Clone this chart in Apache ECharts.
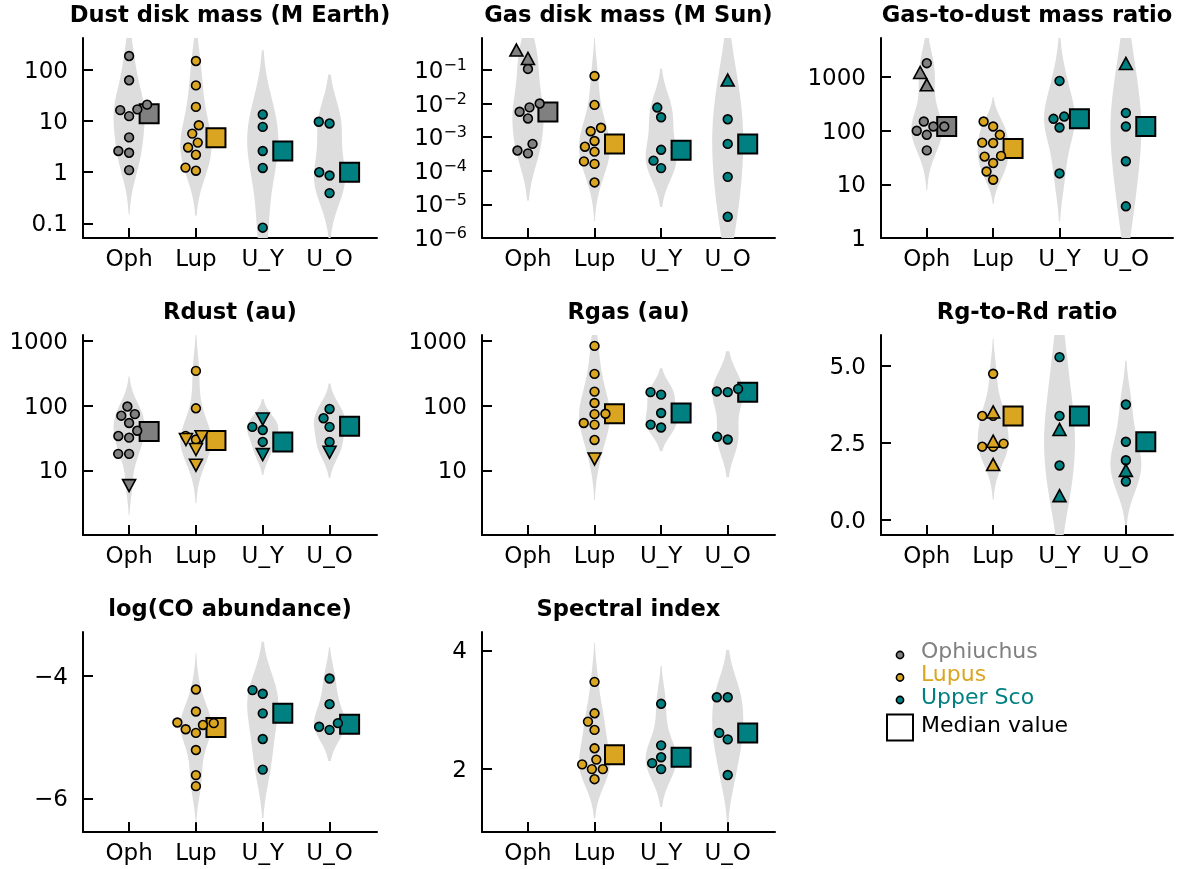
<!DOCTYPE html>
<html>
<head>
<meta charset="utf-8">
<script src="https://cdn.jsdelivr.net/npm/echarts@6/dist/echarts.min.js"></script>
<style>
  html, body { margin: 0; padding: 0; background: #ffffff; }
  #chart { width: 1179px; height: 869px; }
</style>
</head>
<body>
<div id="chart"></div>
<script>
// ---- categories and groups ----
const CATEGORIES = ['Oph', 'Lup', 'U_Y', 'U_O'];
const REGION_NAMES = ['Ophiuchus', 'Lupus', 'Upper Sco'];
const REGION_COLORS = ['#808080', '#daa520', '#008080'];
const CATEGORY_REGION = [0, 1, 2, 2];   // both Upper Sco subsamples share one colour

// ---- Dust disk mass (M Earth) ----
const dustMassDet = [
  [188, 63, 16.4, 12.5, 17, 21, 4.8, 2.6, 2.4, 1.1],
  [150, 50, 19, 8.3, 5.7, 3.8, 3.05, 2.2, 1.23, 1.07],
  [13.5, 7.7, 2.6, 1.21, 0.082],
  [9.7, 9.0, 1.0, 0.86, 0.39]
];
const dustMassLim = [[], [], [], []];
const dustMassMed = [14, 4.7, 2.6, 1.0];
const dustMassTicks = [0.1, 1, 10, 100];

// ---- Gas disk mass (M Sun) ----
const gasMassDet = [
  [0.107, 0.0077, 0.0057, 0.0036, 0.010, 0.00063, 0.0004, 0.00033],
  [0.066, 0.0091, 0.0019, 0.0015, 0.00077, 0.00052, 0.00037, 0.00019, 0.00016, 0.000045],
  [0.0076, 0.0039, 0.00042, 0.0002, 0.00012],
  [0.0034, 0.00063, 0.000066, 0.0000043]
];
const gasMassLim = [[0.39, 0.22], [], [], [0.05]];
const gasMassMed = [0.0056, 0.00063, 0.00041, 0.00063];
const gasMassTicks = [1e-6, 1e-5, 1e-4, 1e-3, 1e-2, 1e-1];

// ---- Gas-to-dust mass ratio ----
const gasDustDet = [
  [1820, 149, 120, 120, 100, 84, 43],
  [149, 120, 84, 60, 59, 34, 33, 25, 17.4, 12.2],
  [850, 184, 167, 115, 16],
  [215, 120, 27, 3.9]
];
const gasDustLim = [[1220, 720], [], [], [1800]];
const gasDustMed = [120, 46.6, 167, 120];
const gasDustTicks = [1, 10, 100, 1000];

// ---- Rdust (au) ----
const rdustDet = [
  [97, 74, 70, 54, 41, 34, 32, 18, 18],
  [345, 91, 34, 30],
  [47, 42, 27.5],
  [89, 64, 47, 27.5]
];
const rdustLim = [[5.8], [33, 30, 21, 12], [62, 17.5], [19]];
const rdustMed = [40, 29, 27.5, 48];
const rdustTicks = [10, 100, 1000];

// ---- Rgas (au) ----
const rgasDet = [
  [],
  [840, 310, 165, 110, 75, 74, 54, 51, 29.5],
  [162, 148, 77, 51, 46],
  [182, 166, 162, 33, 30]
];
const rgasLim = [[], [15], [], []];
const rgasMed = [null, 75, 77, 162];
const rgasTicks = [10, 100, 1000];

// ---- Rg-to-Rd ratio ----
const rRatioDet = [
  [],
  [4.74, 3.37, 3.37, 2.47, 2.37, 2.37],
  [5.28, 3.37, 1.76],
  [3.74, 2.53, 1.93, 1.24]
];
const rRatioLim = [[], [3.5, 2.55, 1.79], [2.93, 0.78], [1.6]];
const rRatioMed = [null, 3.37, 3.37, 2.53];
const rRatioTicks = [0, 2.5, 5];

// ---- log(CO abundance) ----
const coDet = [
  [],
  [-4.22, -4.58, -4.76, -4.77, -4.80, -4.87, -4.93, -5.21, -5.62, -5.80],
  [-4.23, -4.29, -4.61, -5.03, -5.53],
  [-4.04, -4.46, -4.77, -4.83, -4.88]
];
const coLim = [[], [], [], []];
const coMed = [null, -4.84, -4.61, -4.79];
const coTicks = [-6, -4];

// ---- Spectral index ----
const specDet = [
  [],
  [3.47, 2.94, 2.80, 2.66, 2.35, 2.16, 2.08, 2.0, 2.0, 1.83],
  [3.10, 2.40, 2.20, 2.10, 2.0],
  [3.21, 3.21, 2.61, 2.50, 1.90]
];
const specLim = [[], [], [], []];
const specMed = [null, 2.24, 2.20, 2.61];
const specTicks = [2, 4];

// ---- panel setup (axis limits are in plotted units: log10 for log panels) ----
const panels = [
  { title: 'Dust disk mass (M Earth)', det: dustMassDet, lim: dustMassLim, med: dustMassMed, ticks: dustMassTicks, log: true,  yRange: [-1.288, 2.627], limDir: 'up',   fmt: 'plain' },
  { title: 'Gas disk mass (M Sun)',    det: gasMassDet,  lim: gasMassLim,  med: gasMassMed,  ticks: gasMassTicks,  log: true,  yRange: [-6, -0.05],     limDir: 'up',   fmt: 'pow' },
  { title: 'Gas-to-dust mass ratio',   det: gasDustDet,  lim: gasDustLim,  med: gasDustMed,  ticks: gasDustTicks,  log: true,  yRange: [0, 3.73],       limDir: 'up',   fmt: 'plain' },
  { title: 'Rdust (au)',               det: rdustDet,    lim: rdustLim,    med: rdustMed,    ticks: rdustTicks,    log: true,  yRange: [0, 3.093],      limDir: 'down', fmt: 'plain' },
  { title: 'Rgas (au)',                det: rgasDet,     lim: rgasLim,     med: rgasMed,     ticks: rgasTicks,     log: true,  yRange: [0, 3.093],      limDir: 'down', fmt: 'plain' },
  { title: 'Rg-to-Rd ratio',           det: rRatioDet,   lim: rRatioLim,   med: rRatioMed,   ticks: rRatioTicks,   log: false, yRange: [-0.5, 6.0],     limDir: 'up',   fmt: 'fixed1' },
  { title: 'log(CO abundance)',        det: coDet,       lim: coLim,       med: coMed,       ticks: coTicks,       log: false, yRange: [-6.55, -3.28],  limDir: 'up',   fmt: 'plain' },
  { title: 'Spectral index',           det: specDet,     lim: specLim,     med: specMed,     ticks: specTicks,     log: false, yRange: [0.94, 4.31],    limDir: 'up',   fmt: 'plain' }
];

const FONT = 'DejaVu Sans';
const FONT_SIZE = 23;
const layout = { colLeft: [83, 482, 881], colWidth: [294, 293, 292], rowTop: [38, 335, 632], height: 200 };
const X_RANGE = [-0.69, 3.71];
const VIOLIN_HALF = 0.233;       // widest point of each violin, category units
const MEDIAN_SHIFT = 0.3;        // median marker sits to the right of the swarm
const R_CIRCLE = 5.2, R_TRI = 6.9;  // swarm collision radii, px
const VIOLIN_FILL = '#dddddd';

const toPlot = (p, v) => p.log ? Math.round(Math.log10(v) * 1e6) / 1e6 : v;
const minus = s => s.replace('-', '\u2212');

// Gaussian KDE (Scott bandwidth), extended two bandwidths past the data, clipped to the axis
function violinOutline(vals, center, yRange) {
  const n = vals.length;
  const mean = vals.reduce((a, b) => a + b, 0) / n;
  const sd = Math.sqrt(vals.reduce((a, b) => a + (b - mean) * (b - mean), 0) / (n - 1));
  const bw = sd * Math.pow(n, -0.2);
  const lo = Math.min(...vals) - 2 * bw, hi = Math.max(...vals) + 2 * bw;
  const dens = y => vals.reduce((s, v) => s + Math.exp(-0.5 * ((y - v) / bw) ** 2), 0);
  const N = 240;
  let dmax = 0;
  for (let i = 0; i <= N; i++) dmax = Math.max(dmax, dens(lo + (hi - lo) * i / N));
  const a = Math.max(lo, yRange[0]), b = Math.min(hi, yRange[1]);
  const right = [], left = [];
  for (let i = 0; i <= N; i++) {
    const y = a + (b - a) * i / N;
    const w = VIOLIN_HALF * dens(y) / dmax;
    right.push([center + w, y]);
    left.push([center - w, y]);
  }
  return right.concat(left.reverse());
}

// Beeswarm layout: points placed from lowest to highest, nearest free spot to the midline
function beeswarm(ys, r) {
  const order = ys.map((_, i) => i).sort((a, b) => ys[a] - ys[b] || a - b);
  const placed = [];
  const out = new Array(ys.length).fill(0);
  order.forEach(idx => {
    const y = ys[idx];
    const nb = [];
    for (let k = placed.length - 1; k >= 0; k--) {
      if (y - placed[k].y < 2 * r) nb.unshift(placed[k]); else break;
    }
    let x = 0;
    if (nb.length) {
      const cands = [0];
      let leftFirst = true;
      nb.forEach(p => {
        const dy = y - p.y;
        const dx = Math.sqrt(Math.max(4 * r * r - dy * dy, 0)) * 1.05;
        if (leftFirst) cands.push(p.x - dx, p.x + dx); else cands.push(p.x + dx, p.x - dx);
        leftFirst = !leftFirst;
      });
      const sorted = cands.map((c, k) => [c, k]).sort((u, v) => Math.abs(u[0]) - Math.abs(v[0]) || u[1] - v[1]);
      for (const [c] of sorted) {
        if (nb.every(p => (p.x - c) ** 2 + (p.y - y) ** 2 >= 4 * r * r)) { x = c; break; }
      }
    }
    placed.push({ x, y });
    out[idx] = x;
  });
  return out;
}

const option = {
  animation: false,
  backgroundColor: '#ffffff',
  grid: [], xAxis: [], yAxis: [], series: [], graphic: []
};

panels.forEach((p, k) => {
  const col = k % 3, row = Math.floor(k / 3);
  const left = layout.colLeft[col], width = layout.colWidth[col];
  const top = layout.rowTop[row], height = layout.height;
  const pxX = width / (X_RANGE[1] - X_RANGE[0]);
  const pxY = height / (p.yRange[1] - p.yRange[0]);

  option.grid.push({ left, top, width, height, containLabel: false, outerBoundsMode: 'none' });

  const tickPos = p.ticks.map(t => toPlot(p, t));
  const labelFor = v => {
    let i = 0, best = Infinity;
    tickPos.forEach((t, j) => { const d = Math.abs(t - v); if (d < best) { best = d; i = j; } });
    const raw = p.ticks[i];
    if (p.fmt === 'pow') return '{b|10}{s|' + minus(String(Math.round(Math.log10(raw)))) + '}';
    if (p.fmt === 'fixed1') return raw.toFixed(1);
    return minus(String(raw));
  };

  option.xAxis.push({
    gridIndex: k, type: 'value', min: X_RANGE[0], max: X_RANGE[1],
    axisLine: { show: true, onZero: false, lineStyle: { color: '#000', width: 2 } },
    axisTick: { show: true, inside: true, length: 10, lineStyle: { color: '#000', width: 2 }, customValues: [0, 1, 2, 3] },
    axisLabel: { show: true, customValues: [0, 1, 2, 3], formatter: v => CATEGORIES[Math.round(v)],
                 color: '#000', fontSize: FONT_SIZE, fontFamily: FONT, margin: 11 },
    splitLine: { show: false }
  });
  option.yAxis.push({
    gridIndex: k, type: 'value', min: p.yRange[0], max: p.yRange[1],
    axisLine: { show: true, onZero: false, lineStyle: { color: '#000', width: 2 } },
    axisTick: { show: true, inside: true, length: 10, lineStyle: { color: '#000', width: 2 }, customValues: tickPos },
    axisLabel: { show: true, customValues: tickPos, formatter: labelFor,
                 color: '#000', fontSize: FONT_SIZE, fontFamily: FONT, margin: 15, padding: [4, 0, 0, 0],
                 rich: {
                   b: { fontSize: FONT_SIZE, fontFamily: FONT, color: '#000', lineHeight: 28 },
                   s: { fontSize: 16, fontFamily: FONT, color: '#000', lineHeight: 16, verticalAlign: 'top' }
                 } },
    splitLine: { show: false }
  });

  // violins
  const shapes = [];
  CATEGORIES.forEach((c, i) => {
    const vals = p.det[i].concat(p.lim[i]).map(v => toPlot(p, v));
    if (vals.length >= 2) shapes.push(violinOutline(vals, i, p.yRange));
  });
  option.series.push({
    type: 'custom', xAxisIndex: k, yAxisIndex: k, z: 1, silent: true,
    data: shapes.map((s, j) => [j, 0]),
    renderItem: (params, api) => ({
      type: 'polygon',
      shape: { points: shapes[params.dataIndex].map(pt => api.coord(pt)) },
      style: { fill: VIOLIN_FILL }
    })
  });

  // swarm points
  const swarmItems = (arrs, r) => {
    const items = [];
    CATEGORIES.forEach((c, i) => {
      const ys = arrs[i].map(v => toPlot(p, v));
      const offs = beeswarm(ys.map(y => (y - p.yRange[0]) * pxY), r);
      ys.forEach((y, j) => items.push({
        value: [i + offs[j] / pxX, y],
        itemStyle: { color: REGION_COLORS[CATEGORY_REGION[i]] }
      }));
    });
    return items;
  };

  // medians
  const medItems = [];
  p.med.forEach((m, i) => {
    if (m === null) return;
    medItems.push({ value: [i + MEDIAN_SHIFT, toPlot(p, m)], itemStyle: { color: REGION_COLORS[CATEGORY_REGION[i]] } });
  });
  option.series.push({
    type: 'scatter', xAxisIndex: k, yAxisIndex: k, z: 2, silent: true,
    symbol: 'rect', symbolSize: 19,
    itemStyle: { borderColor: '#000', borderWidth: 2, opacity: 1 },
    data: medItems
  });
  option.series.push({
    type: 'scatter', xAxisIndex: k, yAxisIndex: k, z: 3, silent: true,
    symbol: 'circle', symbolSize: 8.8,
    itemStyle: { borderColor: '#000', borderWidth: 1.6, opacity: 1 },
    data: swarmItems(p.det, R_CIRCLE)
  });
  option.series.push({
    type: 'scatter', xAxisIndex: k, yAxisIndex: k, z: 4, silent: true,
    symbol: 'triangle', symbolSize: [13, 12], symbolRotate: p.limDir === 'down' ? 180 : 0,
    itemStyle: { borderColor: '#000', borderWidth: 1.6, opacity: 1 },
    data: swarmItems(p.lim, R_TRI)
  });

  // panel title
  option.graphic.push({
    type: 'text', x: left + width / 2, y: top - 22, silent: true,
    style: { text: p.title, font: 'bold 22.6px "' + FONT + '"', fill: '#000',
             align: 'center', verticalAlign: 'middle', textAlign: 'center', textVerticalAlign: 'middle' }
  });
});

// legend
REGION_NAMES.forEach((name, j) => {
  option.graphic.push({
    type: 'circle', silent: true, shape: { cx: 900, cy: 655 + j * 22.5, r: 3.6 },
    style: { fill: REGION_COLORS[j], stroke: '#000', lineWidth: 1.6 }
  });
  option.graphic.push({
    type: 'text', x: 921, y: 652 + j * 23, silent: true,
    style: { text: name, font: '22px "' + FONT + '"', fill: REGION_COLORS[j],
             align: 'left', verticalAlign: 'middle', textAlign: 'left', textVerticalAlign: 'middle' }
  });
});
option.graphic.push({
  type: 'rect', silent: true, shape: { x: 887, y: 714.5, width: 26, height: 26 },
  style: { fill: '#ffffff', stroke: '#000', lineWidth: 2 }
});
option.graphic.push({
  type: 'text', x: 921, y: 726, silent: true,
  style: { text: 'Median value', font: '22px "' + FONT + '"', fill: '#000',
           align: 'left', verticalAlign: 'middle', textAlign: 'left', textVerticalAlign: 'middle' }
});

const chart = echarts.init(document.getElementById('chart'), null, { renderer: 'canvas' });
chart.setOption(option);
</script>
</body>
</html>
